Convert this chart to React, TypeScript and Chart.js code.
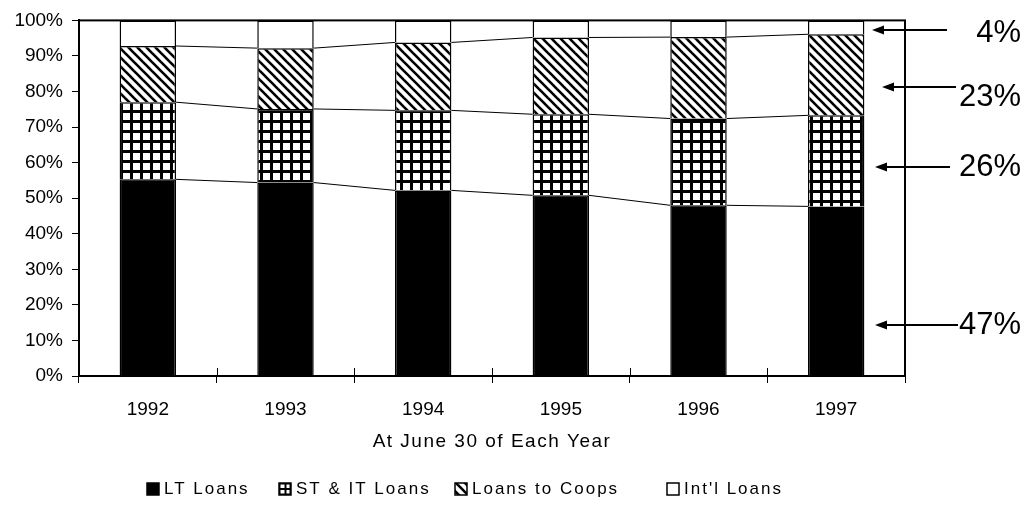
import { useEffect, useRef } from 'react';
import { Chart, registerables } from 'chart.js';

Chart.register(...registerables);

// ---- data ----
const years = ['1992', '1993', '1994', '1995', '1996', '1997'];
const ltLoans = [55.3, 54.4, 52.2, 50.8, 48.0, 47.7];
const stItLoans = [21.7, 20.7, 22.5, 22.8, 24.4, 25.6];
const coopLoans = [15.8, 17.1, 19.1, 21.6, 22.9, 22.8];
const intlLoans = [7.2, 7.8, 6.2, 4.8, 4.7, 3.9];
const seriesNames = ['LT Loans', 'ST & IT Loans', 'Loans to Coops', "Int'l Loans"];
const shareLabels = ['4%', '23%', '26%', '47%'];
const axisTitle = 'At June 30 of Each Year';

const FONT = "'Liberation Sans', Arial, sans-serif";

// layout/styling for the decorations
const legendX = [147, 279, 455, 667];
const annot = [
  { arrowY: 30, textY: 33, tail: 42, tip: -33 },
  { arrowY: 87, textY: 97, tail: 51, tip: -23 },
  { arrowY: 167, textY: 167, tail: 45, tip: -30 },
  { arrowY: 325, textY: 325, tail: 53, tip: -30 },
];

function makeGrid(): CanvasPattern | string {
  const c = document.createElement('canvas');
  c.width = 10; c.height = 10;
  const g = c.getContext('2d')!;
  g.fillStyle = '#000';
  g.fillRect(0, 0, 10, 10);
  g.fillStyle = '#fff';
  g.fillRect(3, 3, 7, 7);
  return g.createPattern(c, 'repeat') || '#555';
}

function makeDiag(): CanvasPattern | string {
  const s = 9;
  const c = document.createElement('canvas');
  c.width = s; c.height = s;
  const g = c.getContext('2d')!;
  g.fillStyle = '#fff';
  g.fillRect(0, 0, s, s);
  g.strokeStyle = '#000';
  g.lineWidth = 2.6;
  for (let k = -1; k <= 1; k++) {
    g.beginPath();
    g.moveTo(-1, -1 + k * s);
    g.lineTo(s + 1, s + 1 + k * s);
    g.stroke();
  }
  return g.createPattern(c, 'repeat') || '#aaa';
}

export default function App() {
  const ref = useRef<HTMLCanvasElement | null>(null);

  useEffect(() => {
    if (!ref.current) return;
    const grid = makeGrid();
    const diag = makeDiag();
    const fills: any[] = ['#000', grid, diag, '#fff'];
    const values = [ltLoans, stItLoans, coopLoans, intlLoans];

    const decor = {
      id: 'decor',
      afterDatasetsDraw(chart: any) {
        const ctx = chart.ctx as CanvasRenderingContext2D;
        ctx.save();
        ctx.strokeStyle = '#000';
        ctx.lineWidth = 1;
        for (let d = 0; d < 3; d++) {
          const meta = chart.getDatasetMeta(d);
          for (let i = 0; i < meta.data.length - 1; i++) {
            const a = meta.data[i] as any;
            const b = meta.data[i + 1] as any;
            ctx.beginPath();
            ctx.moveTo(a.x + a.width / 2, a.y);
            ctx.lineTo(b.x - b.width / 2, b.y);
            ctx.stroke();
          }
        }
        ctx.restore();
      },
      afterDraw(chart: any) {
        const ctx = chart.ctx as CanvasRenderingContext2D;
        const { left, right, top, bottom } = chart.chartArea;
        ctx.save();
        // plot border
        ctx.strokeStyle = '#000';
        ctx.lineWidth = 2;
        ctx.strokeRect(left, top, right - left, bottom - top);

        // crossing part of the category tick marks
        ctx.lineWidth = 1;
        const n = years.length;
        for (let i = 1; i < n; i++) {
          const x = Math.round(left + (i * (right - left)) / n) + 0.5;
          ctx.beginPath();
          ctx.moveTo(x, bottom - 8);
          ctx.lineTo(x, bottom);
          ctx.stroke();
        }

        // axis title
        ctx.fillStyle = '#000';
        ctx.font = `19px ${FONT}`;
        (ctx as any).letterSpacing = '1.5px';
        ctx.textAlign = 'center';
        ctx.textBaseline = 'middle';
        ctx.fillText(axisTitle, (left + right) / 2, bottom + 66);

        // legend
        ctx.font = `17px ${FONT}`;
        (ctx as any).letterSpacing = '2px';
        ctx.textAlign = 'left';
        const ly = bottom + 113;
        seriesNames.forEach((name, i) => {
          const x = legendX[i];
          const y = ly - 6;
          if (i === 1) {
            // small grid icon
            ctx.fillStyle = '#000';
            ctx.fillRect(x - 0.75, y - 0.75, 13.5, 13.5);
            ctx.fillStyle = '#fff';
            ctx.fillRect(x + 1.5, y + 1.5, 4, 3.5);
            ctx.fillRect(x + 1.5, y + 7, 4, 3.5);
            ctx.fillRect(x + 7.5, y + 1.5, 3, 3.5);
            ctx.fillRect(x + 7.5, y + 7, 3, 3.5);
          } else {
            ctx.fillStyle = fills[i];
            ctx.fillRect(x, y, 12, 12);
            ctx.strokeStyle = '#000';
            ctx.lineWidth = 1.5;
            ctx.strokeRect(x, y, 12, 12);
          }
          ctx.fillStyle = '#000';
          ctx.fillText(name, x + 17, ly);
        });

        // share annotations
        (ctx as any).letterSpacing = '0px';
        ctx.font = `31px ${FONT}`;
        ctx.textAlign = 'right';
        ctx.textBaseline = 'middle';
        annot.forEach((a, i) => {
          const tail = right + a.tail;
          const tip = right + a.tip;
          ctx.strokeStyle = '#000';
          ctx.lineWidth = 2;
          ctx.beginPath();
          ctx.moveTo(tail, a.arrowY);
          ctx.lineTo(tip + 10, a.arrowY);
          ctx.stroke();
          ctx.beginPath();
          ctx.moveTo(tip, a.arrowY);
          ctx.lineTo(tip + 12, a.arrowY - 4.5);
          ctx.lineTo(tip + 12, a.arrowY + 4.5);
          ctx.closePath();
          ctx.fillStyle = '#000';
          ctx.fill();
          ctx.fillText(shareLabels[i], right + 116, a.textY);
        });
        ctx.restore();
      },
    };

    const chart = new Chart(ref.current, {
      type: 'bar',
      data: {
        labels: years,
        datasets: seriesNames.map((name, i) => ({
          label: name,
          data: values[i],
          backgroundColor: fills[i],
          borderColor: '#000',
          borderWidth: 1.5,
          barPercentage: 0.41,
          categoryPercentage: 1,
        })),
      },
      options: {
        animation: false,
        responsive: true,
        maintainAspectRatio: false,
        layout: { padding: { left: 12, right: 124, top: 20, bottom: 0 } },
        plugins: {
          legend: { display: false },
          tooltip: { enabled: false },
        },
        scales: {
          x: {
            stacked: true,
            afterFit: (s: any) => { s.height = 130; },
            grid: {
              display: true,
              offset: true,
              drawOnChartArea: false,
              tickLength: 7,
              color: '#000',
              lineWidth: 1,
            },
            border: { display: true, color: '#000', width: 2 },
            ticks: {
              color: '#000',
              font: { family: FONT, size: 19 },
              padding: 15,
              maxRotation: 0,
            },
          },
          y: {
            stacked: true,
            min: 0,
            max: 100,
            afterFit: (s: any) => { s.width = 67; },
            grid: {
              drawOnChartArea: false,
              tickLength: 7,
              color: '#000',
              lineWidth: 1,
            },
            border: { display: true, color: '#000', width: 2 },
            ticks: {
              stepSize: 10,
              color: '#000',
              font: { family: FONT, size: 19 },
              padding: 9,
              callback: (v: any) => `${v}%`,
            },
          },
        },
      },
      plugins: [decor],
    });
    return () => chart.destroy();
  }, []);

  return (
    <div style={{ position: 'fixed', left: 0, top: 0, width: 1029, height: 506, background: '#fff' }}>
      <canvas ref={ref} />
    </div>
  );
}
